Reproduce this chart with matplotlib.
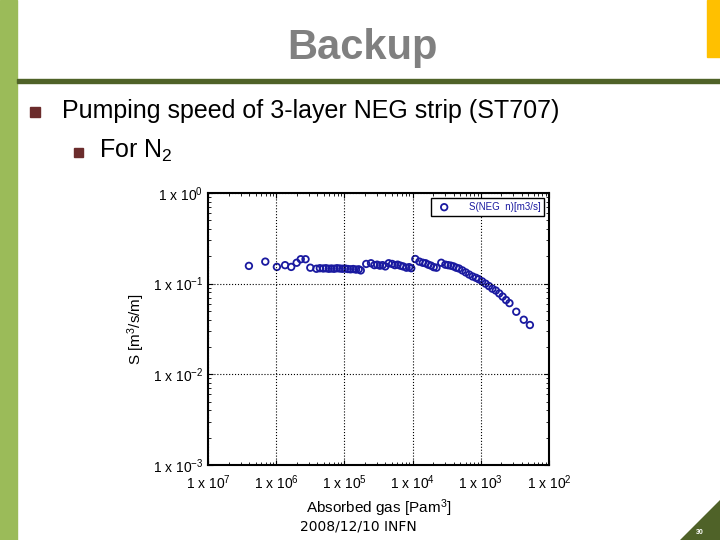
import matplotlib
matplotlib.use("Agg")
import matplotlib.pyplot as plt
import numpy as np
from matplotlib.patches import Rectangle, Polygon

plt.rcParams['font.family'] = ['Liberation Sans', 'DejaVu Sans']
plt.rcParams['mathtext.fontset'] = 'custom'
plt.rcParams['mathtext.rm'] = 'Liberation Sans'
plt.rcParams['mathtext.it'] = 'Liberation Sans'

# data (log10 of absorbed gas, speed)
logx = [-6.40, -6.16, -5.99, -5.87, -5.78, -5.70, -5.64, -5.57, -5.50,
        -5.41, -5.36, -5.31, -5.27, -5.23, -5.19, -5.15, -5.11, -5.07, -5.03, -4.99, -4.95, -4.91, -4.87, -4.83, -4.79, -4.76,
        -4.68, -4.61, -4.56, -4.52, -4.48, -4.44, -4.40, -4.35, -4.30, -4.26, -4.22, -4.18, -4.14, -4.09, -4.05, -4.02,
        -3.96, -3.90, -3.85, -3.81, -3.77, -3.73, -3.69, -3.65, -3.58, -3.52, -3.48, -3.44, -3.40, -3.36, -3.32,
        -3.27, -3.22, -3.17, -3.12, -3.07, -3.03, -2.98, -2.93, -2.88, -2.83, -2.78, -2.73, -2.68, -2.63, -2.58, -2.48, -2.37, -2.28]
S = [0.157, 0.175, 0.153, 0.160, 0.153, 0.170, 0.186, 0.186, 0.150,
     0.146, 0.148, 0.147, 0.148, 0.146, 0.147, 0.146, 0.148, 0.147, 0.146, 0.147, 0.145, 0.144, 0.145, 0.143, 0.144, 0.140,
     0.165, 0.168, 0.160, 0.162, 0.158, 0.160, 0.155, 0.168, 0.165, 0.160, 0.162, 0.158, 0.155, 0.150, 0.152, 0.148,
     0.187, 0.175, 0.170, 0.168, 0.162, 0.158, 0.152, 0.150, 0.170, 0.162, 0.160, 0.158, 0.155, 0.150, 0.147,
     0.140, 0.133, 0.126, 0.120, 0.116, 0.112, 0.106, 0.100, 0.094, 0.088, 0.084, 0.078, 0.072, 0.066, 0.061, 0.049, 0.040, 0.035]
xticklabels = ["7", "6", "5", "4", "3", "2"]
yticklabels = ["0", "-1", "-2", "-3"]

fig = plt.figure(figsize=(7.2, 5.4), dpi=100)
fig.patch.set_facecolor("white")
fig.add_artist(Rectangle((0, 0), 17/720, 1, transform=fig.transFigure, color="#9BBB59"))
fig.add_artist(Rectangle((17/720, 1-83/540), 1, 4/540, transform=fig.transFigure, color="#4F6228"))
fig.add_artist(Rectangle((707/720, 1-57/540), 13/720, 57/540, transform=fig.transFigure, color="#FFC000"))
fig.add_artist(Polygon([(680/720, 0), (1, 0), (1, 40/540)], closed=True, transform=fig.transFigure, color="#4F6228"))
fig.text(362/720, 1-48/540, "Backup", ha="center", va="center", fontsize=30, fontweight="bold", color="#808080")
fig.add_artist(Rectangle((30/720, 1-117/540), 10/720, 10/540, transform=fig.transFigure, color="#6B2C2C"))
fig.text(62/720, 1-111/540, "Pumping speed of 3-layer NEG strip (ST707)", va="center", fontsize=18)
fig.add_artist(Rectangle((74/720, 1-157/540), 9/720, 9/540, transform=fig.transFigure, color="#6B2C2C"))
fig.text(99/720, 1-151/540, "For N$_2$", va="center", fontsize=18)
fig.text(358/720, 1-527/540, "2008/12/10 INFN", ha="center", va="center", fontsize=10, family="DejaVu Sans")
fig.text(700/720, 1-532/540, "30", ha="center", va="center", fontsize=5, color="white", fontweight="bold")

ax = fig.add_axes([208/720, 1-465/540, 341/720, 272/540])
ax.scatter(10**np.array(logx), S, s=22, facecolors="none", edgecolors="#1a1aa0", linewidths=1.3,
           label="S(NEG  n)[m3/s]")
ax.set_xscale("log"); ax.set_yscale("log")
ax.set_xlim(1e-7, 1e-2); ax.set_ylim(1e-3, 1)
ax.set_xticks([10.0**k for k in range(-7, -1)])
ax.set_xticklabels(["1 x 10$^{%s}$" % t for t in xticklabels])
ax.set_yticks([10.0**k for k in range(0, -4, -1)])
ax.set_yticklabels(["1 x 10$^{%s}$" % t for t in yticklabels])
ax.tick_params(which="both", direction="in", top=True, right=True, labelsize=10)
ax.tick_params(axis="x", pad=6)
ax.grid(True, which="major", linestyle=":", color="black", linewidth=0.8)
for s in ax.spines.values():
    s.set_linewidth(1.5)
ax.set_xlabel("Absorbed gas [Pam$^3$]", fontsize=11)
ax.set_ylabel("S [m$^3$/s/m]", fontsize=11)
leg = ax.legend(loc="upper right", fontsize=7, fancybox=False, framealpha=1, edgecolor="black", handletextpad=1.5)
for t in leg.get_texts():
    t.set_color("#1a1aa0")
fig.savefig("out.png", dpi=100)
